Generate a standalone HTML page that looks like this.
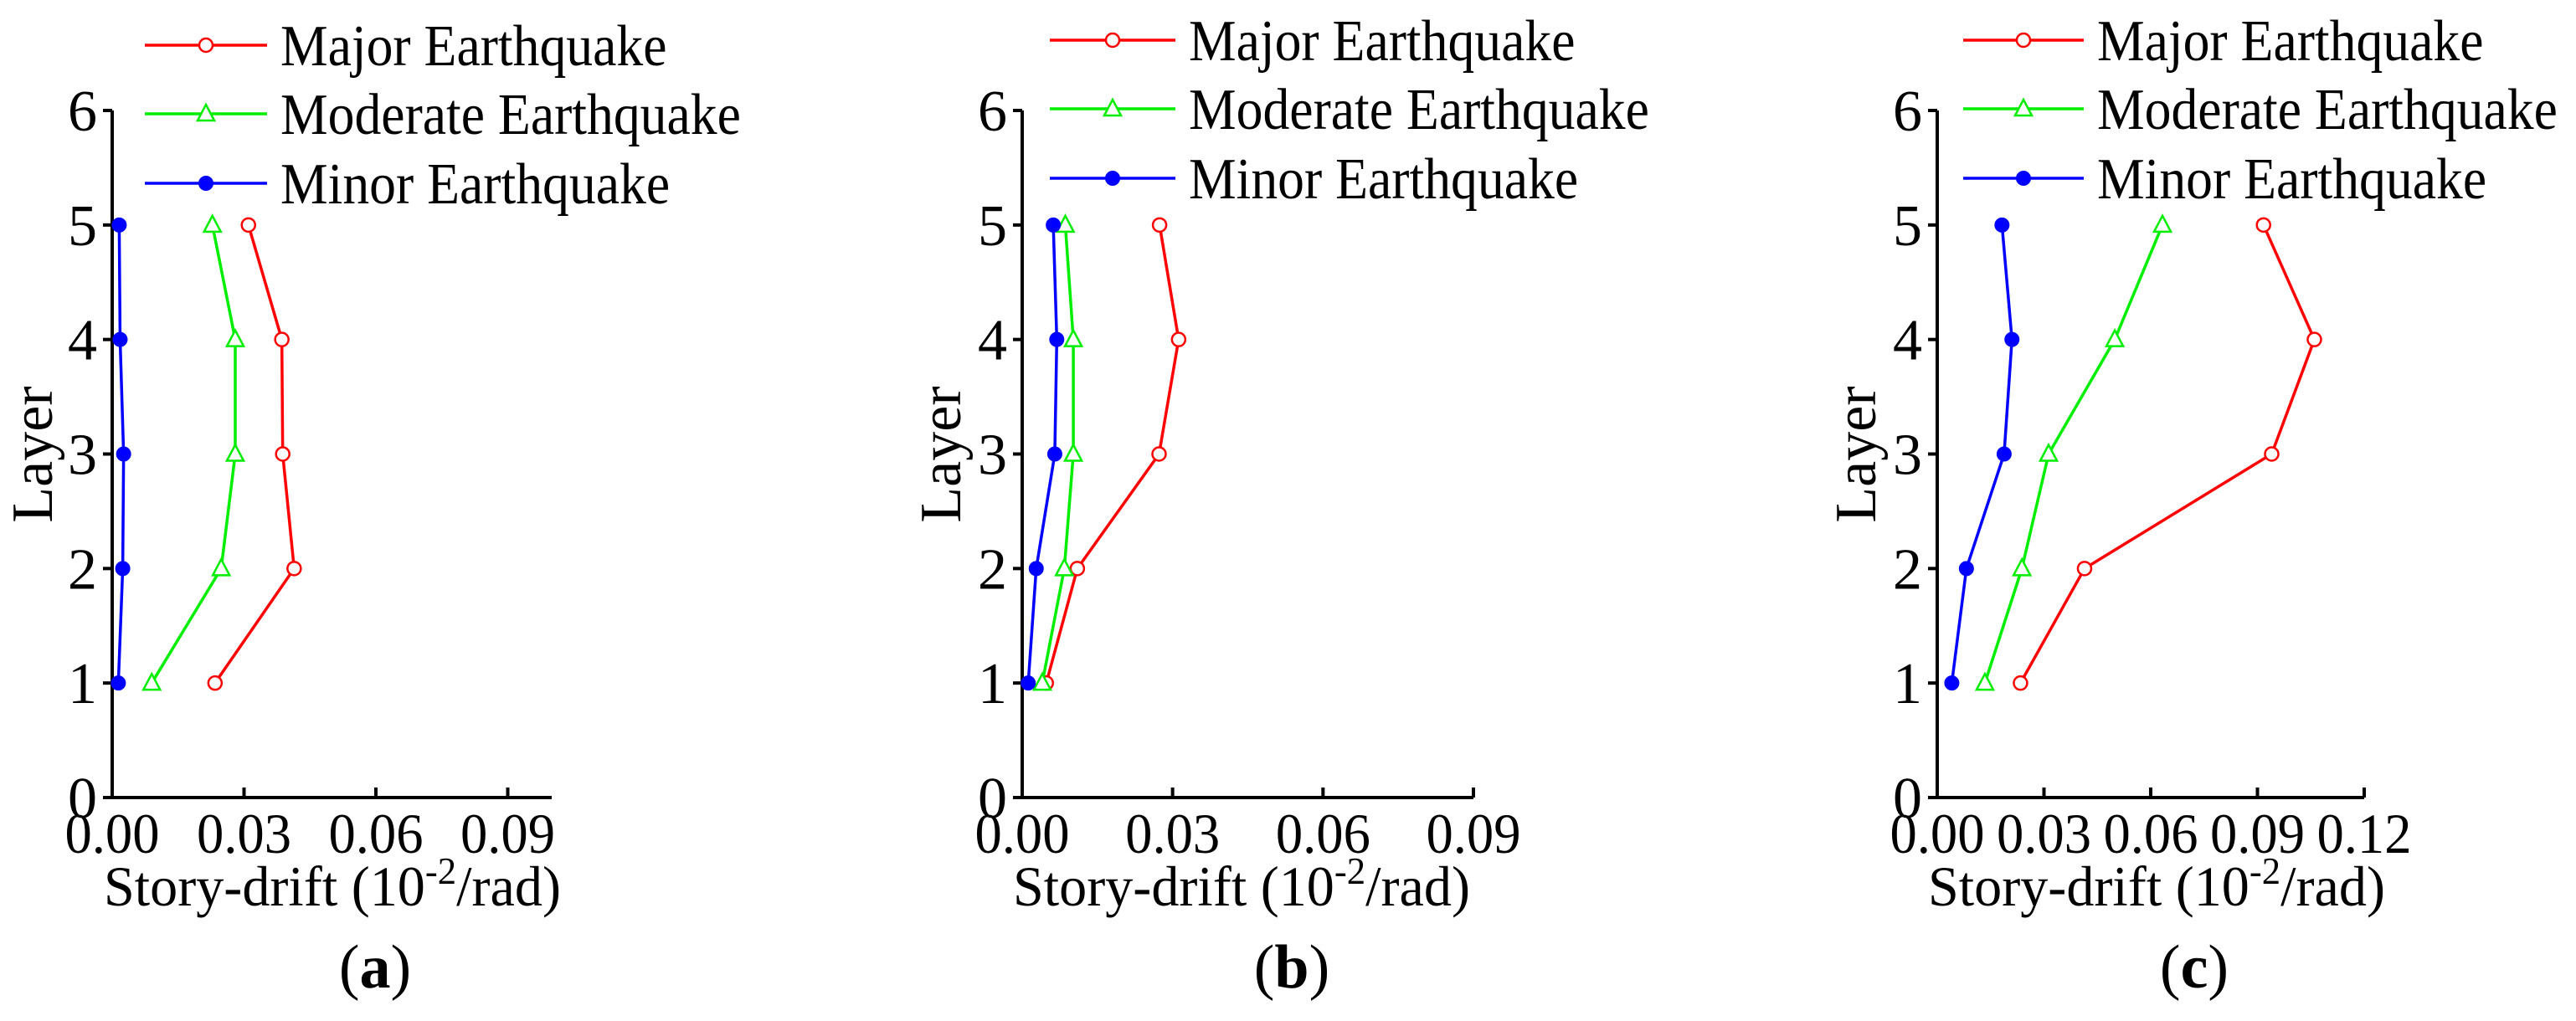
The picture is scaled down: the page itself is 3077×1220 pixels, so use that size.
<!DOCTYPE html>
<html><head><meta charset="utf-8"><style>
html,body{margin:0;padding:0;background:#fff;}
svg{display:block;font-family:"Liberation Serif",serif;}
</style></head><body>
<svg id="fig" width="3077" height="1220" viewBox="0 0 3077 1220" xmlns="http://www.w3.org/2000/svg"></svg>
<script>
// Layers (y values)
const layers = [1, 2, 3, 4, 5];
const yTicks = [0, 1, 2, 3, 4, 5, 6];
// Panel (a)
const aMajor = [0.0234, 0.0414, 0.0388, 0.0386, 0.031];
const aModerate = [0.009, 0.0248, 0.028, 0.028, 0.0228];
const aMinor = [0.0014, 0.0024, 0.0026, 0.0018, 0.0016];
const aTicks = ["0.00", "0.03", "0.06", "0.09"];
// Panel (b)
const bMajor = [0.0048, 0.011, 0.0273, 0.0312, 0.0274];
const bModerate = [0.004, 0.0084, 0.0102, 0.0102, 0.0086];
const bMinor = [0.0012, 0.0028, 0.0065, 0.0069, 0.0062];
const bTicks = ["0.00", "0.03", "0.06", "0.09"];
// Panel (c)
const cMajor = [0.0234, 0.0414, 0.094, 0.106, 0.0917];
const cModerate = [0.0134, 0.0238, 0.0313, 0.0499, 0.0633];
const cMinor = [0.0041, 0.0082, 0.0188, 0.021, 0.0182];
const cTicks = ["0.00", "0.03", "0.06", "0.09", "0.12"];

const NS = "http://www.w3.org/2000/svg";
const svg = document.getElementById("fig");
function mk(tag, attrs, parent, text) {
  const e = document.createElementNS(NS, tag);
  for (const k in attrs) e.setAttribute(k, attrs[k]);
  if (text !== undefined) e.textContent = text;
  (parent || svg).appendChild(e);
  return e;
}

const Y0 = 953, Y6 = 132;
function yScale(v) { return Y0 + (Y6 - Y0) * v / 6; }

function marker(g, type, color, x, y) {
  let m;
  if (type === "circle") {
    m = mk("circle", {cx: x, cy: y, r: 8, fill: "#fff", stroke: color, "stroke-width": 2.5}, g);
  } else if (type === "triangle") {
    m = mk("polygon", {points: `${x},${y-11} ${x-10},${y+8} ${x+10},${y+8}`, fill: "#fff", stroke: color, "stroke-width": 2.5}, g);
  } else {
    m = mk("circle", {cx: x, cy: y, r: 8.5, fill: color, stroke: color, "stroke-width": 1}, g);
  }
  
  
}

function panel(cfg) {
  const g = mk("g", {});
  
  
  const ax = cfg.ax, xMax = cfg.xMax, xEnd = cfg.xEnd;
  const xScale = v => ax + (xEnd - ax) * v / xMax;
  const axes = mk("path", {d: `M${ax},${Y6} V${Y0} H${xEnd}`, fill: "none", stroke: "#000", "stroke-width": 4}, g);
  
  
  yTicks.forEach(t => {
    const y = yScale(t);
    const tk = mk("line", {x1: ax - 11, y1: y, x2: ax, y2: y, stroke: "#000", "stroke-width": 4}, g);
    
    
    const lb = mk("text", {x: ax - 18, y: y + 24, "font-size": 70, "text-anchor": "end"}, g, String(t));
    
    
  });
  cfg.ticks.forEach(t => {
    const x = xScale(parseFloat(t));
    const tk = mk("line", {x1: x, y1: Y0, x2: x, y2: Y0 - 12, stroke: "#000", "stroke-width": 4}, g);
    
    
    const lb = mk("text", {x: 0, y: 0, "font-size": 68, "text-anchor": "middle", transform: `translate(${x},1019) scale(0.95,1)`}, g, t);
    
    
  });
  const xt = mk("text", {x: cfg.xtX, y: 1082, "font-size": 68, textLength: 546, lengthAdjust: "spacingAndGlyphs"}, g);
  
  
  mk("tspan", {}, xt, "Story-drift  (10");
  mk("tspan", {dy: -26, "font-size": 46}, xt, "-2");
  mk("tspan", {dy: 26}, xt, "/rad)");
  const yt = mk("text", {x: 0, y: 0, "font-size": 70, "text-anchor": "middle", transform: `translate(${cfg.ytX},543) rotate(-90)`}, g, "Layer");
  
  
  const cap = mk("text", {x: cfg.capX, y: 1180, "font-size": 74, "text-anchor": "middle"}, g);
  
  
  mk("tspan", {}, cap, "(");
  mk("tspan", {"font-weight": "bold"}, cap, cfg.id);
  mk("tspan", {}, cap, ")");
  const series = [
    {vals: cfg.major, color: "#ff0000", type: "circle", name: "Major Earthquake"},
    {vals: cfg.moderate, color: "#00ee00", type: "triangle", name: "Moderate Earthquake"},
    {vals: cfg.minor, color: "#0000ff", type: "dot", name: "Minor Earthquake"}
  ];
  series.forEach((s, i) => {
    const sg = mk("g", {}, g);
    
    
    const pts = s.vals.map((v, j) => [xScale(v), yScale(layers[j])]);
    mk("polyline", {points: pts.map(p => p.join(",")).join(" "), fill: "none", stroke: s.color, "stroke-width": 3.5}, sg);
    pts.forEach(p => marker(sg, s.type, s.color, p[0], p[1]));
    const ly = cfg.legY[i];
    const lg = mk("g", {}, g);
    
    
    mk("line", {x1: cfg.legX1, y1: ly, x2: cfg.legX2, y2: ly, stroke: s.color, "stroke-width": 3.5}, lg);
    marker(lg, s.type, s.color, (cfg.legX1 + cfg.legX2) / 2, ly);
    mk("text", {x: 0, y: 0, "font-size": 70, transform: `translate(${cfg.legX2 + 16},${ly + 24}) scale(0.91,1)`}, lg, s.name);
  });
}

panel({id: "a", ax: 134, xMax: 0.1, xEnd: 659, ticks: aTicks, major: aMajor, moderate: aModerate, minor: aMinor,
  xtX: 124, ytX: 62, capX: 448, legX1: 173, legX2: 319, legY: [54, 136, 219]});
panel({id: "b", ax: 1221, xMax: 0.09, xEnd: 1760, ticks: bTicks, major: bMajor, moderate: bModerate, minor: bMinor,
  xtX: 1210, ytX: 1147, capX: 1543, legX1: 1254, legX2: 1404, legY: [48, 130, 213]});
panel({id: "c", ax: 2314, xMax: 0.12, xEnd: 2824, ticks: cTicks, major: cMajor, moderate: cModerate, minor: cMinor,
  xtX: 2303, ytX: 2240, capX: 2621, legX1: 2345, legX2: 2489, legY: [48, 130, 213]});
</script>
</body></html>
